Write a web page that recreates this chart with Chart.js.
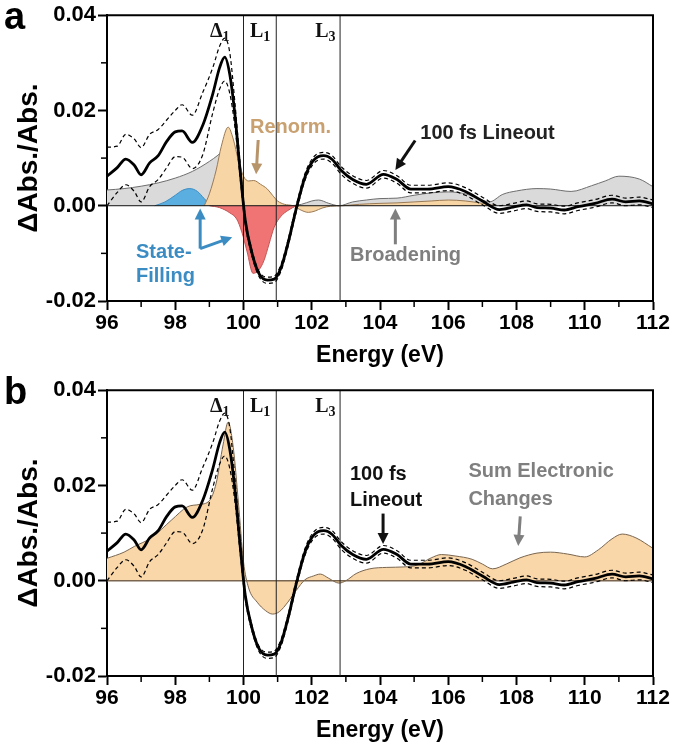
<!DOCTYPE html>
<html>
<head>
<meta charset="utf-8">
<script src="https://cdn.jsdelivr.net/npm/chart.js@4.4.0/dist/chart.umd.min.js"></script>
<style>
  body { margin: 0; background: #fff; width: 676px; height: 752px; position: relative; overflow: hidden; }
  canvas { position: absolute; left: 0; }
  #chart-a { top: 0; }
  #chart-b { top: 375px; }
</style>
</head>
<body>
<canvas id="chart-a" width="676" height="376"></canvas>
<canvas id="chart-b" width="676" height="376"></canvas>
<script>
// 100 fs lineout (solid) and its error band (dashed), same in both panels
const lineE = [96.0, 96.3, 96.55, 96.8, 97.0, 97.25, 97.5, 97.75, 98.0, 98.2, 98.5, 98.8, 99.1, 99.3, 99.45, 99.6, 99.75, 99.9, 100.05, 100.25, 100.45, 100.7, 100.9, 101.1, 101.3, 101.55, 101.8, 102.05, 102.35, 102.6, 102.85, 103.2, 103.6, 104.1, 104.5, 104.9, 105.4, 106.0, 106.5, 107.0, 107.5, 107.9, 108.3, 108.6, 109.0, 109.4, 109.8, 110.3, 110.8, 111.2, 111.6, 112.0]
const lineout = [0.0062, 0.0080, 0.0098, 0.0085, 0.0065, 0.0090, 0.0105, 0.0135, 0.0155, 0.0157, 0.0133, 0.0168, 0.0235, 0.0290, 0.0312, 0.0275, 0.0190, 0.0075, -0.0030, -0.0100, -0.0142, -0.0156, -0.0154, -0.0130, -0.0080, -0.0005, 0.0060, 0.0095, 0.0105, 0.0097, 0.0075, 0.0055, 0.0045, 0.0066, 0.0055, 0.0035, 0.0035, 0.0040, 0.0030, 0.0010, -0.0008, -0.0003, 0.0002, -0.0004, -0.0005, -0.0009, -0.0002, 0.0005, 0.0014, 0.0008, 0.0010, 0.0004]
const lineUpper = [0.0123, 0.0125, 0.0150, 0.0140, 0.0122, 0.0150, 0.0160, 0.0180, 0.0200, 0.0212, 0.0190, 0.0237, 0.0290, 0.0335, 0.0352, 0.0320, 0.0215, 0.0090, -0.0022, -0.0094, -0.0137, -0.0150, -0.0148, -0.0123, -0.0073, 0.0002, 0.0067, 0.0102, 0.0112, 0.0105, 0.0083, 0.0063, 0.0053, 0.0074, 0.0063, 0.0043, 0.0043, 0.0048, 0.0038, 0.0018, 0.0000, 0.0005, 0.0010, 0.0004, 0.0003, -0.0001, 0.0006, 0.0013, 0.0022, 0.0016, 0.0018, 0.0012]
const lineLower = [0.0000, 0.0028, 0.0044, 0.0030, 0.0008, 0.0040, 0.0055, 0.0080, 0.0103, 0.0102, 0.0078, 0.0106, 0.0195, 0.0245, 0.0262, 0.0235, 0.0165, 0.0060, -0.0038, -0.0106, -0.0148, -0.0163, -0.0161, -0.0137, -0.0087, -0.0012, 0.0053, 0.0088, 0.0098, 0.0089, 0.0067, 0.0047, 0.0037, 0.0058, 0.0047, 0.0027, 0.0027, 0.0032, 0.0022, 0.0002, -0.0016, -0.0011, -0.0006, -0.0012, -0.0013, -0.0017, -0.0010, -0.0003, 0.0006, 0.0000, 0.0002, -0.0004]

// panel a components
const grayE = [96, 96.5, 97, 97.5, 98, 98.5, 99, 99.25, 99.45, 99.7, 100.0, 100.3, 100.6, 100.9, 101.3, 101.7, 102.0, 102.2, 102.5, 102.8, 103.2, 103.6, 104.0, 104.5, 105.0, 105.5, 106.0, 106.5, 106.9, 107.2, 107.6, 108.0, 108.6, 109.0, 109.6, 110.2, 110.6, 111.0, 111.6, 112.0]
const broadening = [0.0033, 0.0036, 0.0041, 0.0048, 0.0058, 0.0072, 0.0093, 0.0106, 0.0118, 0.0092, 0.0045, 0.0018, 0.0005, 0.0000, 0.0000, 0.0003, 0.0010, 0.0012, 0.0005, 0.0000, 0.0008, 0.0012, 0.0015, 0.0016, 0.0022, 0.0027, 0.0029, 0.0025, 0.0015, 0.0008, 0.0024, 0.0031, 0.0036, 0.0035, 0.0030, 0.0042, 0.0052, 0.0062, 0.0056, 0.0040]
const blueE = [97.4, 97.7, 98.0, 98.2, 98.43, 98.65, 98.85, 99.0, 99.1]
const fillingPos = [0, 0.0008, 0.0022, 0.0032, 0.0036, 0.0030, 0.0015, 0.0004, 0]
const redE = [99.0, 99.3, 99.6, 99.8, 99.95, 100.1, 100.28, 100.45, 100.6, 100.75, 100.9, 101.1, 101.3, 101.55]
const fillingNeg = [0, -0.0004, -0.0015, -0.0028, -0.0055, -0.0095, -0.0142, -0.0135, -0.0115, -0.0080, -0.0045, -0.0022, -0.0010, 0]
const renormE = [98.85, 99.0, 99.2, 99.35, 99.55, 99.7, 99.85, 100.0, 100.15, 100.3, 100.5, 100.7, 100.85, 101.0, 101.2, 101.45, 101.65, 101.9, 102.1, 102.3, 102.55, 102.9, 103.4, 104.0, 104.5, 105.0, 105.5, 106.0, 106.5, 107.0, 107.4]
const renorm = [0, 0.0025, 0.0075, 0.0125, 0.0165, 0.0140, 0.0095, 0.0062, 0.0052, 0.0053, 0.0045, 0.0035, 0.0022, 0.0010, 0.0003, 0.0000, -0.0008, -0.0014, -0.0011, -0.0005, -0.0001, 0.0000, 0.0003, 0.0005, 0.0006, 0.0008, 0.0010, 0.0012, 0.0010, 0.0005, 0]

// panel b: sum of electronic changes
const sumE = [96.0, 96.5, 96.8, 97.3, 97.9, 98.35, 98.7, 99.0, 99.2, 99.4, 99.55, 99.7, 99.85, 100.0, 100.15, 100.4, 100.65, 100.85, 101.05, 101.3, 101.55, 101.8, 102.05, 102.25, 102.5, 102.8, 103.0, 103.3, 103.7, 104.2, 104.7, 105.1, 105.5, 105.8, 106.2, 106.7, 107.0, 107.3, 107.7, 108.1, 108.6, 109.0, 109.5, 110.0, 110.4, 110.8, 111.1, 111.5, 112.0]
const sumElec = [0.0047, 0.0060, 0.0072, 0.0090, 0.0128, 0.0155, 0.0160, 0.0168, 0.0205, 0.0285, 0.0333, 0.0280, 0.0165, 0.0040, -0.0015, -0.0045, -0.0063, -0.0070, -0.0065, -0.0045, -0.0020, 0.0002, 0.0010, 0.0014, 0.0005, -0.0005, 0.0000, 0.0015, 0.0025, 0.0028, 0.0029, 0.0033, 0.0048, 0.0055, 0.0052, 0.0045, 0.0035, 0.0025, 0.0035, 0.0048, 0.0058, 0.0060, 0.0056, 0.0050, 0.0065, 0.0088, 0.0098, 0.0090, 0.0068]

const refLines = [100, 100.96, 102.83] // Δ1, L1, L3 edges
const xMajor = 2, yMajor = 0.02
const xMinor = [97, 99, 101, 103, 105, 107, 109, 111]
const yMinor = [-0.01, 0.01, 0.03]

const fam = "'Liberation Sans', Arial, sans-serif"
const serif = "'Liberation Serif', 'DejaVu Serif', serif"

const pts = (xs, ys) => xs.map((e, i) => ({ x: e, y: ys[i] }))

function curve(xs, ys, color, width, order, extra) {
  return Object.assign({
    data: pts(xs, ys), borderColor: color, borderWidth: width, pointRadius: 0,
    cubicInterpolationMode: 'monotone', fill: false, order: order
  }, extra || {})
}

function area(xs, ys, fillColor, edge, order) {
  return curve(xs, ys, edge, 1, order, { fill: 'origin', backgroundColor: fillColor })
}

function lineoutSets() {
  return [
    curve(lineE, lineout, '#000', 2.8, 1),
    curve(lineE, lineUpper, '#000', 1.2, 2, { borderDash: [4, 3] }),
    curve(lineE, lineLower, '#000', 1.2, 2, { borderDash: [4, 3] })
  ]
}

function guideSets(zeroColor, zeroWidth) {
  const sets = refLines.map(e => curve([e, e], [-0.02, 0.04], '#222', 1, 5, { cubicInterpolationMode: 'default', tension: 0 }))
  sets.push(curve([96, 112], [0, 0], zeroColor, zeroWidth, 5, { cubicInterpolationMode: 'default', tension: 0 }))
  return sets
}

function arrow(ctx, x1, y1, x2, y2, color, w) {
  const ang = Math.atan2(y2 - y1, x2 - x1), h = 11
  ctx.strokeStyle = color; ctx.fillStyle = color; ctx.lineWidth = w
  ctx.beginPath()
  ctx.moveTo(x1, y1)
  ctx.lineTo(x2 - Math.cos(ang) * h * 0.8, y2 - Math.sin(ang) * h * 0.8)
  ctx.stroke()
  ctx.beginPath()
  ctx.moveTo(x2, y2)
  ctx.lineTo(x2 - h * Math.cos(ang) + h * 0.5 * Math.sin(ang), y2 - h * Math.sin(ang) - h * 0.5 * Math.cos(ang))
  ctx.lineTo(x2 - h * Math.cos(ang) - h * 0.5 * Math.sin(ang), y2 - h * Math.sin(ang) + h * 0.5 * Math.cos(ang))
  ctx.closePath()
  ctx.fill()
}

function drawNotes(chart, panel) {
  const { ctx, scales: { x, y } } = chart
  const X = e => x.getPixelForValue(e), Y = v => y.getPixelForValue(v)
  const text = (s, e, v, color) => { ctx.fillStyle = color; ctx.fillText(s, X(e), Y(v)) }
  const arr = (e1, v1, e2, v2, color) => arrow(ctx, X(e1), Y(v1), X(e2), Y(v2), color, 3)

  // level labels
  const level = (e, main, sub) => {
    ctx.fillStyle = '#111'
    ctx.font = `bold 20px ${serif}`
    ctx.fillText(main, X(e), Y(0.0354))
    const w = ctx.measureText(main).width
    ctx.font = `bold 14px ${serif}`
    ctx.fillText(sub, X(e) + w, Y(0.0354) + 4)
  }
  level(99.02, 'Δ', '1')
  level(100.19, 'L', '1')
  level(102.1, 'L', '3')

  ctx.font = `bold 20px ${fam}`
  const tan = '#c9a070', blue = '#3a8cc2', gray = '#7f7f7f'
  if (panel === 'a') {
    text('Renorm.', 100.19, 0.0152, tan)
    arr(100.43, 0.0138, 100.37, 0.0066, '#b8946a')
    text('100 fs Lineout', 105.18, 0.0141, '#222')
    arr(105.03, 0.0137, 104.45, 0.0075, '#111')
    text('State-', 96.85, -0.0110, blue)
    text('Filling', 96.85, -0.0160, blue)
    arr(98.73, -0.0090, 98.73, -0.0006, blue)
    arr(98.73, -0.0090, 99.67, -0.0066, blue)
    text('Broadening', 103.12, -0.0117, gray)
    arr(104.45, -0.0081, 104.45, -0.0006, gray)
  } else {
    text('100 fs', 103.12, 0.0212, '#111')
    text('Lineout', 103.12, 0.0156, '#111')
    arr(104.09, 0.0141, 104.09, 0.0077, '#111')
    text('Sum Electronic', 106.59, 0.0218, gray)
    text('Changes', 106.59, 0.0160, gray)
    arr(108.11, 0.0135, 108.05, 0.0073, gray)
  }
}

const decor = {
  id: 'decor',
  afterDraw(chart, args, opts) {
    const { ctx, chartArea: a, scales: { x, y } } = chart
    ctx.save()
    ctx.strokeStyle = '#000'
    ctx.lineWidth = 2
    ctx.beginPath()
    ctx.moveTo(a.left, a.top)
    ctx.lineTo(a.right, a.top)
    ctx.lineTo(a.right, a.bottom)
    ctx.stroke()
    ctx.lineWidth = 1.5
    xMinor.forEach(e => {
      const px = x.getPixelForValue(e)
      ctx.beginPath(); ctx.moveTo(px, a.bottom); ctx.lineTo(px, a.bottom + 6); ctx.stroke()
    })
    yMinor.forEach(v => {
      const py = y.getPixelForValue(v)
      ctx.beginPath(); ctx.moveTo(a.left - 6, py); ctx.lineTo(a.left, py); ctx.stroke()
    })
    ctx.textBaseline = 'alphabetic'
    ctx.textAlign = 'left'
    drawNotes(chart, opts.panel)
    ctx.fillStyle = '#000'
    ctx.font = `bold 38px ${fam}`
    ctx.fillText(opts.panel, 4, 29)
    ctx.restore()
  }
}

function makeChart(id, panel, datasets) {
  return new Chart(document.getElementById(id), {
    type: 'line',
    data: { datasets: datasets },
    options: {
      responsive: false,
      animation: false,
      layout: { padding: { left: 0, right: 23, top: 13, bottom: 0 } },
      plugins: { legend: { display: false }, tooltip: { enabled: false }, decor: { panel: panel } },
      scales: {
        x: {
          type: 'linear', min: 96, max: 112,
          border: { display: true, color: '#000', width: 2 },
          grid: { drawOnChartArea: false, drawTicks: true, tickLength: 9, tickWidth: 2, tickColor: '#000' },
          ticks: { stepSize: xMajor, autoSkip: false, maxRotation: 0, padding: 1, color: '#000',
            font: { family: fam, size: 21, weight: 'bold' } },
          title: { display: true, text: 'Energy (eV)', color: '#000',
            font: { family: fam, size: 23, weight: 'bold' }, padding: { top: 0, bottom: 7 } },
          afterFit: s => { s.height = 75 }
        },
        y: {
          min: -0.02, max: 0.04,
          border: { display: true, color: '#000', width: 2 },
          grid: { drawOnChartArea: false, drawTicks: true, tickLength: 9, tickWidth: 2, tickColor: '#000' },
          ticks: { stepSize: yMajor, padding: 2, color: '#000',
            font: { family: fam, size: 22, weight: 'bold' },
            callback: v => Math.abs(v) < 1e-9 ? '0.00' : v.toFixed(2) },
          title: { display: true, text: 'ΔAbs./Abs.', color: '#000',
            font: { family: fam, size: 28, weight: 'bold' }, padding: { top: 12, bottom: 0 } },
          afterFit: s => { s.width = 107 }
        }
      }
    },
    plugins: [decor]
  })
}

makeChart('chart-a', 'a', [
  ...lineoutSets(),
  ...guideSets('#111', 1),
  area(redE, fillingNeg, '#f07474', '#c25555', 7),
  area(renormE, renorm, '#f8d5a5', '#9a7a55', 8),
  area(blueE, fillingPos, '#5aaee0', '#3f8fc4', 9),
  area(grayE, broadening, '#dadada', '#6e6e6e', 10)
])

makeChart('chart-b', 'b', [
  ...lineoutSets(),
  ...guideSets('#7a6650', 1.5),
  area(sumE, sumElec, '#f9d7a9', '#7a6650', 8)
])
</script>
</body>
</html>
